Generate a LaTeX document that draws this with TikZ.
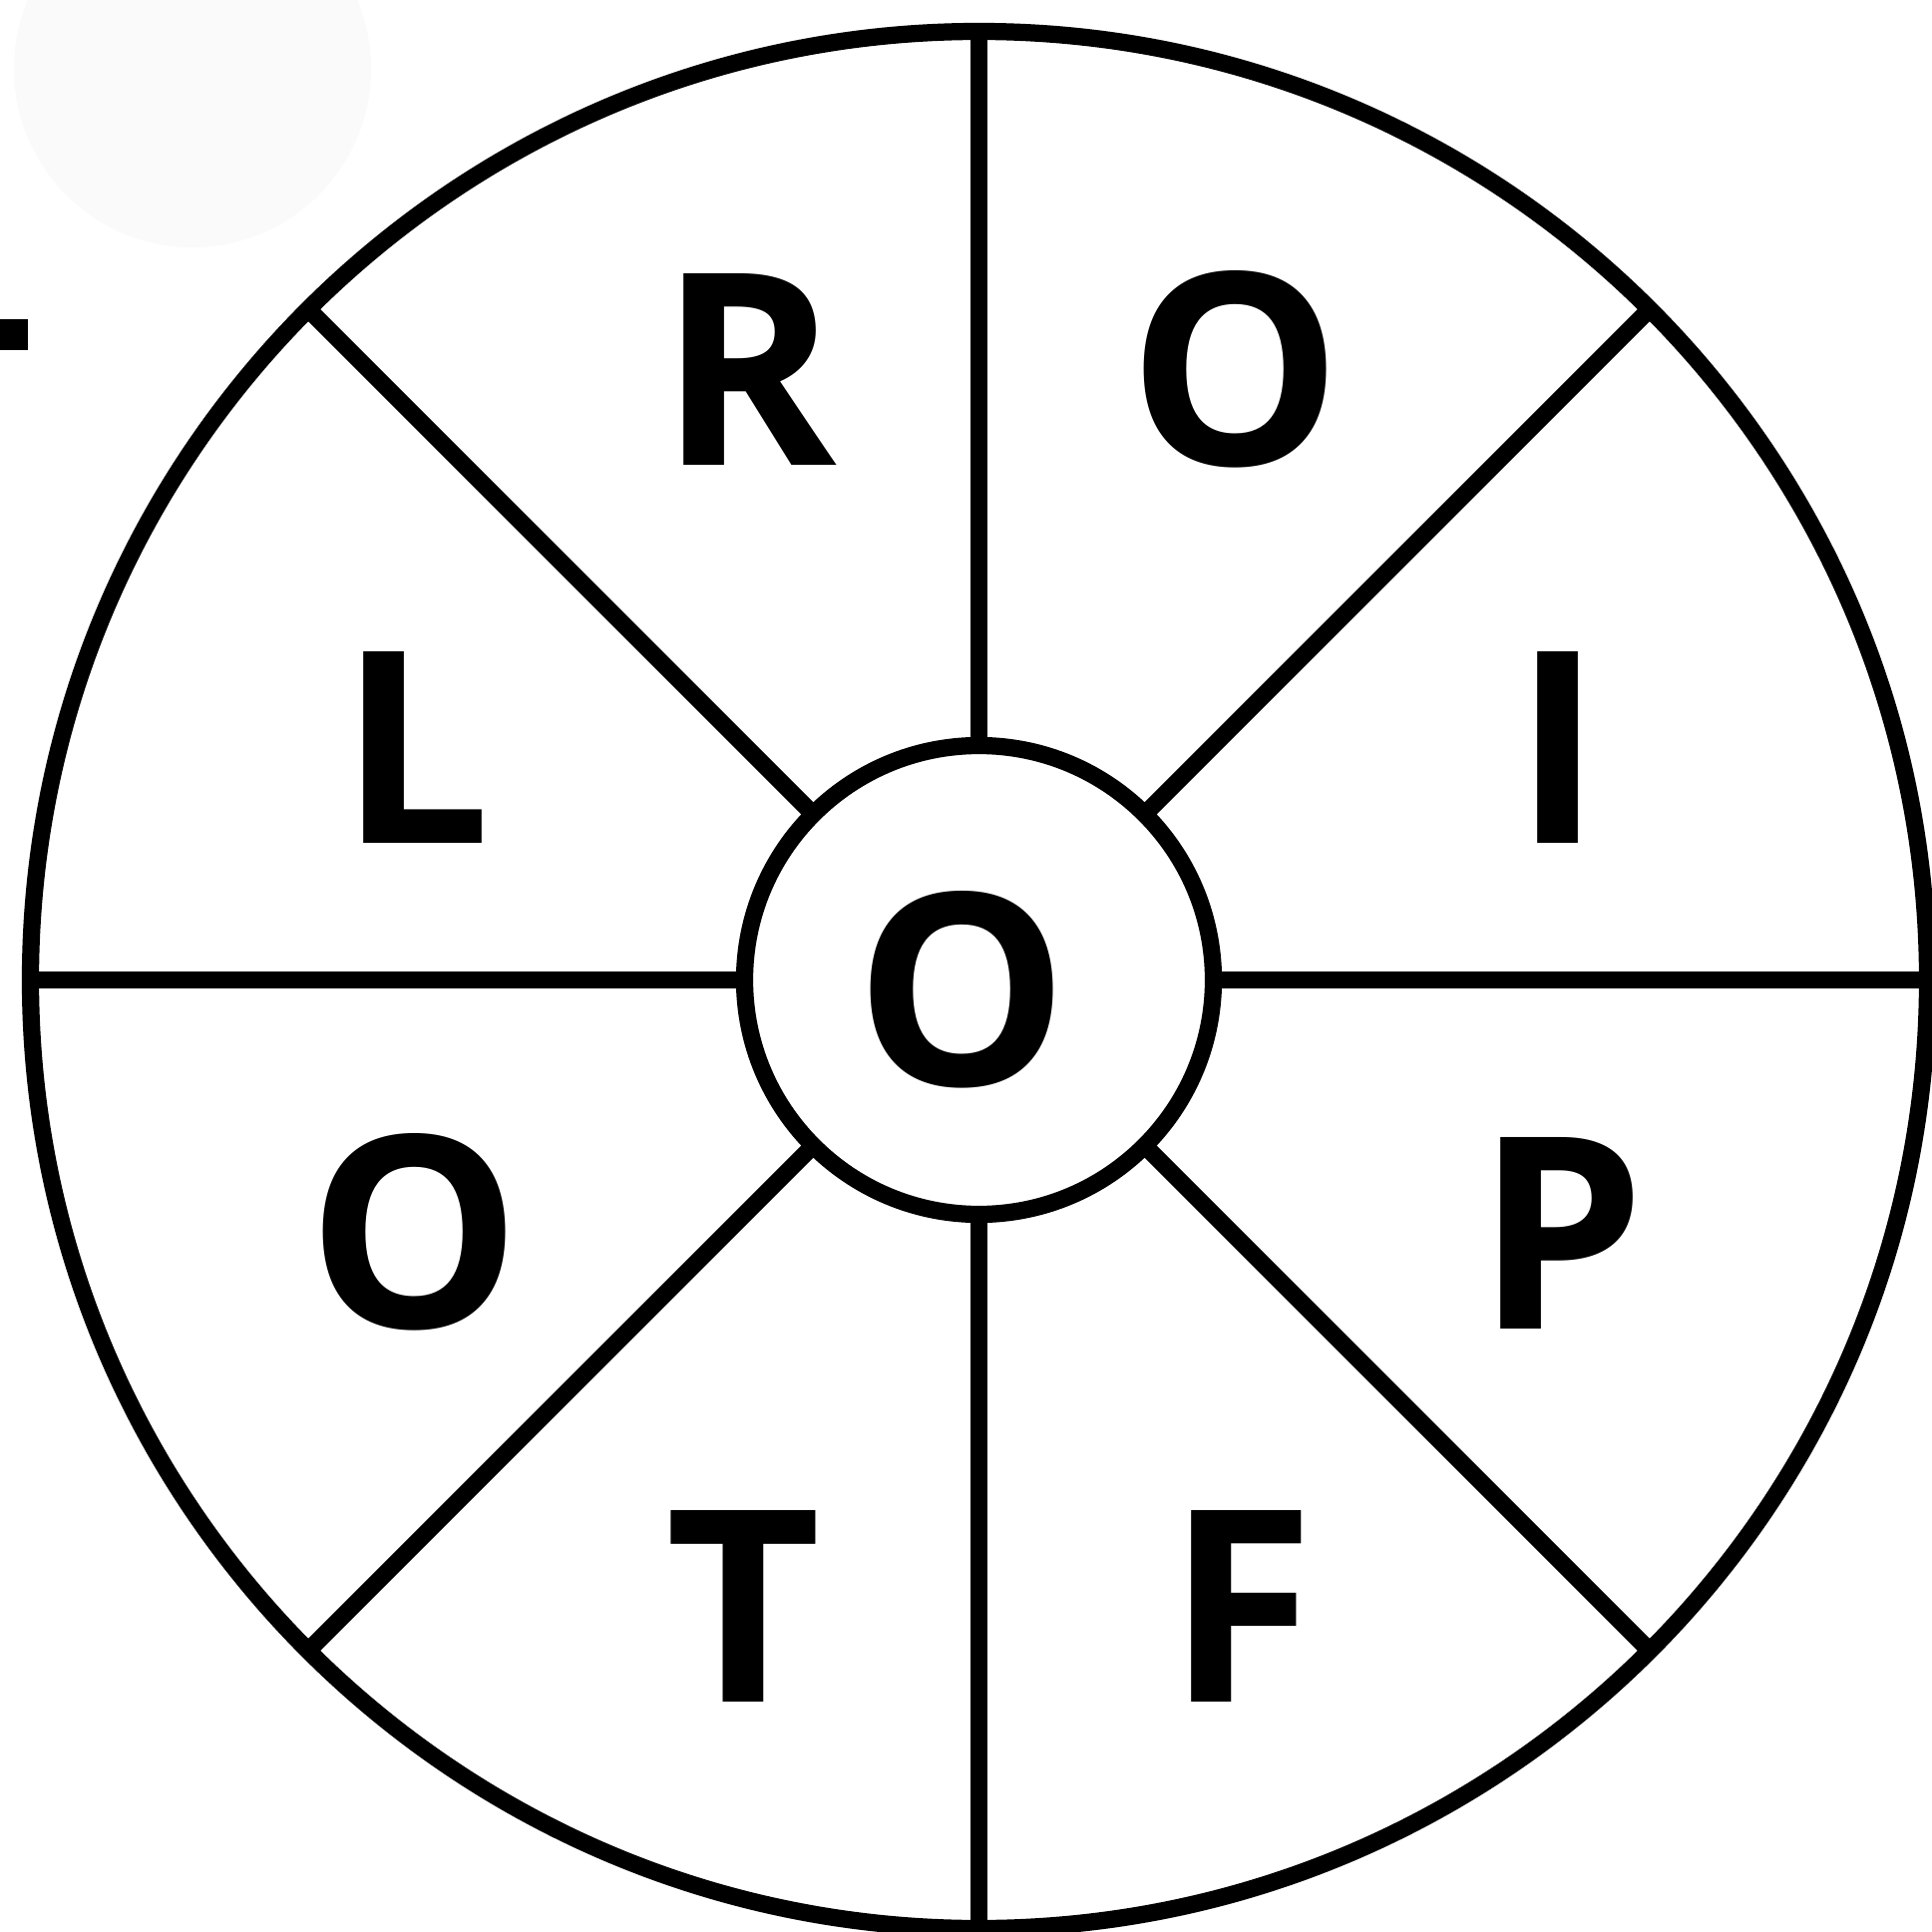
\documentclass[tikz,border=0pt]{standalone}
\usepackage{fontspec}
\usetikzlibrary{calc}
\setmainfont{Open Sans}
\definecolor{faintgray}{HTML}{FAFAFA}
\begin{document}
\begin{tikzpicture}[x=0.01cm,y=-0.01cm,
  wheel/.style={line width=4.9pt, draw=black},
  letter/.style={anchor=base, inner sep=0pt, font=\fontsize{76.5}{80}\selectfont\bfseries}]
\useasboundingbox (0,0) rectangle (1936,1937);
\fill[white] (0,0) rectangle (1936,1937);
% faint background blob and edge mark
\fill[faintgray] (193,69) circle[radius=179];
\fill[black] (0,320) rectangle (28,351);
% wheel
\coordinate (c) at (981.5,982.5);
\draw[wheel] (c) circle[radius=951];
\draw[wheel] (c) circle[radius=235];
\foreach \a in {0,45,...,315}{
  \draw[wheel] ($(c)+(\a:235)$) -- ($(c)+(\a:951)$);
}
% letters
\node[letter] (r)  at (750,467)  {R};
\node[letter] (o1) at (1239,467) {O};
\node[letter] (l)  at (416,845)  {L};
\node[letter] (i)  at (1562,845) {I};
\node[letter] (oc) at (965,1088) {O};
\node[letter] (o2) at (416,1331) {O};
\node[letter] (p)  at (1565,1332) {P};
\node[letter] (t)  at (745,1706) {T};
\node[letter] (f)  at (1244,1706) {F};
\end{tikzpicture}
\end{document}
